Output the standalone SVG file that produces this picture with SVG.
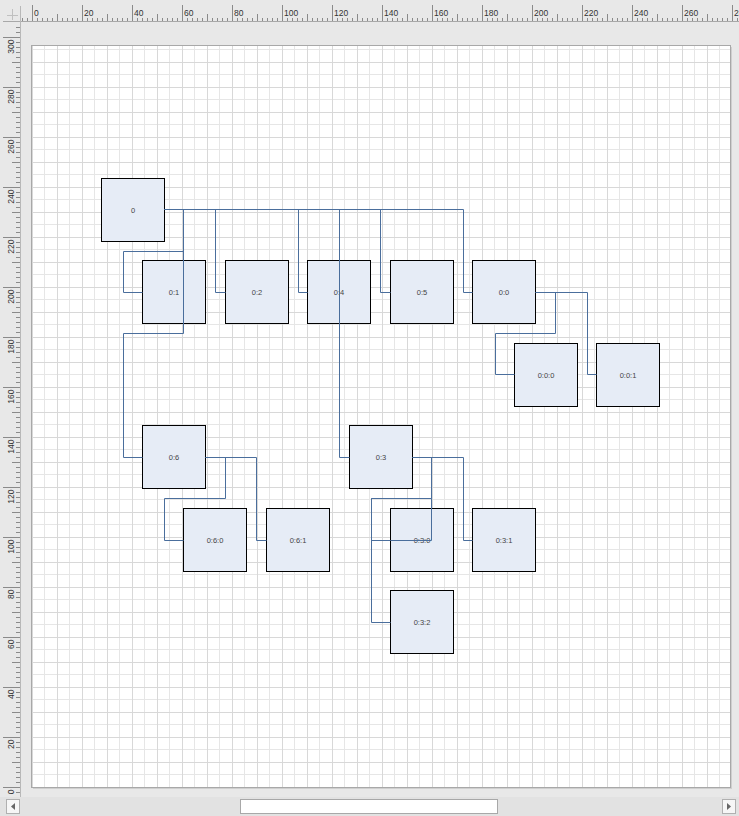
<svg xmlns="http://www.w3.org/2000/svg" width="739" height="816" viewBox="0 0 739 816">
<style>
.node rect{fill:#e6ecf6;stroke:#000;stroke-width:1}
.node text{font-family:"Liberation Sans",Arial,sans-serif;font-size:7.5px;fill:#444;text-anchor:middle;dominant-baseline:central}
#connectors path{fill:none;stroke:#4a6e9c;stroke-width:1}
.rl{font-family:"Liberation Sans",Arial,sans-serif;font-size:8.5px;fill:#333}
.rv{font-family:"Liberation Sans",Arial,sans-serif;font-size:8.5px;fill:#333;text-anchor:end}
</style>
<defs>
<pattern id="grid" patternUnits="userSpaceOnUse" x="32" y="37" width="25" height="25">
<rect x="0" y="12" width="25" height="1" fill="#e6e6e6"/>
<rect x="12" y="0" width="1" height="25" fill="#e6e6e6"/>
<rect x="0" y="0" width="25" height="1" fill="#d8d8d8"/>
<rect x="0" y="0" width="1" height="25" fill="#d8d8d8"/>
</pattern>
<pattern id="htick" patternUnits="userSpaceOnUse" x="32" y="0" width="50" height="22">
<rect x="0" y="5" width="1" height="17" fill="#8a8a8a"/>
<rect x="5" y="18" width="1" height="4" fill="#8a8a8a"/>
<rect x="10" y="18" width="1" height="4" fill="#8a8a8a"/>
<rect x="15" y="18" width="1" height="4" fill="#8a8a8a"/>
<rect x="20" y="18" width="1" height="4" fill="#8a8a8a"/>
<rect x="25" y="14" width="1" height="8" fill="#8a8a8a"/>
<rect x="30" y="18" width="1" height="4" fill="#8a8a8a"/>
<rect x="35" y="18" width="1" height="4" fill="#8a8a8a"/>
<rect x="40" y="18" width="1" height="4" fill="#8a8a8a"/>
<rect x="45" y="18" width="1" height="4" fill="#8a8a8a"/>
</pattern>
<pattern id="vtick" patternUnits="userSpaceOnUse" x="0" y="37" width="22" height="50">
<rect x="3" y="0" width="17" height="1" fill="#8a8a8a"/>
<rect x="16" y="5" width="4" height="1" fill="#8a8a8a"/>
<rect x="16" y="10" width="4" height="1" fill="#8a8a8a"/>
<rect x="16" y="15" width="4" height="1" fill="#8a8a8a"/>
<rect x="16" y="20" width="4" height="1" fill="#8a8a8a"/>
<rect x="12" y="25" width="8" height="1" fill="#8a8a8a"/>
<rect x="16" y="30" width="4" height="1" fill="#8a8a8a"/>
<rect x="16" y="35" width="4" height="1" fill="#8a8a8a"/>
<rect x="16" y="40" width="4" height="1" fill="#8a8a8a"/>
<rect x="16" y="45" width="4" height="1" fill="#8a8a8a"/>
</pattern>
</defs>
<rect x="0" y="0" width="739" height="816" fill="#e8e8e8"/>
<g id="rulers">
<rect x="22" y="0" width="717" height="22" fill="url(#htick)"/>
<rect x="0" y="24" width="21" height="773" fill="url(#vtick)"/>
<line x1="3" y1="21.5" x2="739" y2="21.5" stroke="#a8a8a8"/>
<line x1="20.5" y1="6" x2="20.5" y2="797" stroke="#b8b8b8"/>
<path d="M12.5 9 V20 M7 15.5 H18" stroke="#c0c0c0" fill="none"/>
<g class="rl">
<text x="34" y="16">0</text><text x="84" y="16">20</text><text x="134" y="16">40</text><text x="184" y="16">60</text><text x="234" y="16">80</text><text x="284" y="16">100</text><text x="334" y="16">120</text><text x="384" y="16">140</text><text x="434" y="16">160</text><text x="484" y="16">180</text><text x="534" y="16">200</text><text x="584" y="16">220</text><text x="634" y="16">240</text><text x="684" y="16">260</text><text x="734" y="16">280</text>
</g>
<g class="rv">
<text transform="translate(14,789.5) rotate(-90)">0</text>
<text transform="translate(14,739.5) rotate(-90)">20</text>
<text transform="translate(14,689.5) rotate(-90)">40</text>
<text transform="translate(14,639.5) rotate(-90)">60</text>
<text transform="translate(14,589.5) rotate(-90)">80</text>
<text transform="translate(14,539.5) rotate(-90)">100</text>
<text transform="translate(14,489.5) rotate(-90)">120</text>
<text transform="translate(14,439.5) rotate(-90)">140</text>
<text transform="translate(14,389.5) rotate(-90)">160</text>
<text transform="translate(14,339.5) rotate(-90)">180</text>
<text transform="translate(14,289.5) rotate(-90)">200</text>
<text transform="translate(14,239.5) rotate(-90)">220</text>
<text transform="translate(14,189.5) rotate(-90)">240</text>
<text transform="translate(14,139.5) rotate(-90)">260</text>
<text transform="translate(14,89.5) rotate(-90)">280</text>
<text transform="translate(14,39.5) rotate(-90)">300</text>
</g>
</g>
<g id="page">
<rect x="33" y="47" width="699" height="742" fill="#cfcfcf"/>
<rect x="31.5" y="45.5" width="699" height="742" fill="#fff"/>
<rect x="32" y="46" width="698" height="741" fill="url(#grid)"/>
<rect x="31.5" y="45.5" width="699" height="742" fill="none" stroke="#a8a8a8"/>
</g>
<g id="scrollbar">
<rect x="0" y="797" width="739" height="19" fill="#e2e2e2"/>
<rect x="6.5" y="799.5" width="13" height="14" fill="#f6f6f6" stroke="#b0b0b0"/>
<path d="M11 806.5 L15 803 V810 Z" fill="#666"/>
<rect x="722.5" y="799.5" width="13" height="14" fill="#f6f6f6" stroke="#b0b0b0"/>
<path d="M731 806.5 L727 803 V810 Z" fill="#666"/>
<rect x="240.5" y="799.5" width="257" height="14" fill="#fff" stroke="#a8a8a8"/>
</g>
<g id="nodes">
<g class="node" id="n0"><rect x="101.5" y="178.5" width="63" height="63"/><text x="133" y="210">0</text></g>
<g class="node" id="n0_1"><rect x="142.5" y="260.5" width="63" height="63"/><text x="174" y="292">0:1</text></g>
<g class="node" id="n0_2"><rect x="225.5" y="260.5" width="63" height="63"/><text x="257" y="292">0:2</text></g>
<g class="node" id="n0_4"><rect x="307.5" y="260.5" width="63" height="63"/><text x="339" y="292">0:4</text></g>
<g class="node" id="n0_5"><rect x="390.5" y="260.5" width="63" height="63"/><text x="422" y="292">0:5</text></g>
<g class="node" id="n0_0"><rect x="472.5" y="260.5" width="63" height="63"/><text x="504" y="292">0:0</text></g>
<g class="node" id="n0_0_0"><rect x="514.5" y="343.5" width="63" height="63"/><text x="546" y="375">0:0:0</text></g>
<g class="node" id="n0_0_1"><rect x="596.5" y="343.5" width="63" height="63"/><text x="628" y="375">0:0:1</text></g>
<g class="node" id="n0_6"><rect x="142.5" y="425.5" width="63" height="63"/><text x="174" y="457">0:6</text></g>
<g class="node" id="n0_3"><rect x="349.5" y="425.5" width="63" height="63"/><text x="381" y="457">0:3</text></g>
<g class="node" id="n0_6_0"><rect x="183.5" y="508.5" width="63" height="63"/><text x="215" y="540">0:6:0</text></g>
<g class="node" id="n0_6_1"><rect x="266.5" y="508.5" width="63" height="63"/><text x="298" y="540">0:6:1</text></g>
<g class="node" id="n0_3_0"><rect x="390.5" y="508.5" width="63" height="63"/><text x="422" y="540">0:3:0</text></g>
<g class="node" id="n0_3_1"><rect x="472.5" y="508.5" width="63" height="63"/><text x="504" y="540">0:3:1</text></g>
<g class="node" id="n0_3_2"><rect x="390.5" y="590.5" width="63" height="63"/><text x="422" y="622">0:3:2</text></g>
</g>
<g id="connectors">
<path d="M164.5 209.5 H183.5 V251.5 H123.5 V292.5 H142.5"/>
<path d="M164.5 209.5 H215.5 V292.5 H225.5"/>
<path d="M164.5 209.5 H298.5 V292.5 H307.5"/>
<path d="M164.5 209.5 H380.5 V292.5 H390.5"/>
<path d="M164.5 209.5 H463.5 V292.5 H472.5"/>
<path d="M164.5 209.5 H183.5 V333.5 H123.5 V457.5 H142.5"/>
<path d="M164.5 209.5 H339.5 V457.5 H349.5"/>
<path d="M535.5 292.5 H555.5 V333.5 H495.5 V374.5 H514.5"/>
<path d="M535.5 292.5 H587.5 V374.5 H596.5"/>
<path d="M205.5 457.5 H225.5 V498.5 H164.5 V540.5 H183.5"/>
<path d="M205.5 457.5 H256.5 V540.5 H266.5"/>
<path d="M412.5 457.5 H431.5 V498.5 H371.5 V540.5 H390.5 M390.5 540.5 H431.5 V498.5"/>
<path d="M412.5 457.5 H463.5 V540.5 H472.5"/>
<path d="M412.5 457.5 H431.5 V498.5 H371.5 V622.5 H390.5"/>
</g>
</svg>
